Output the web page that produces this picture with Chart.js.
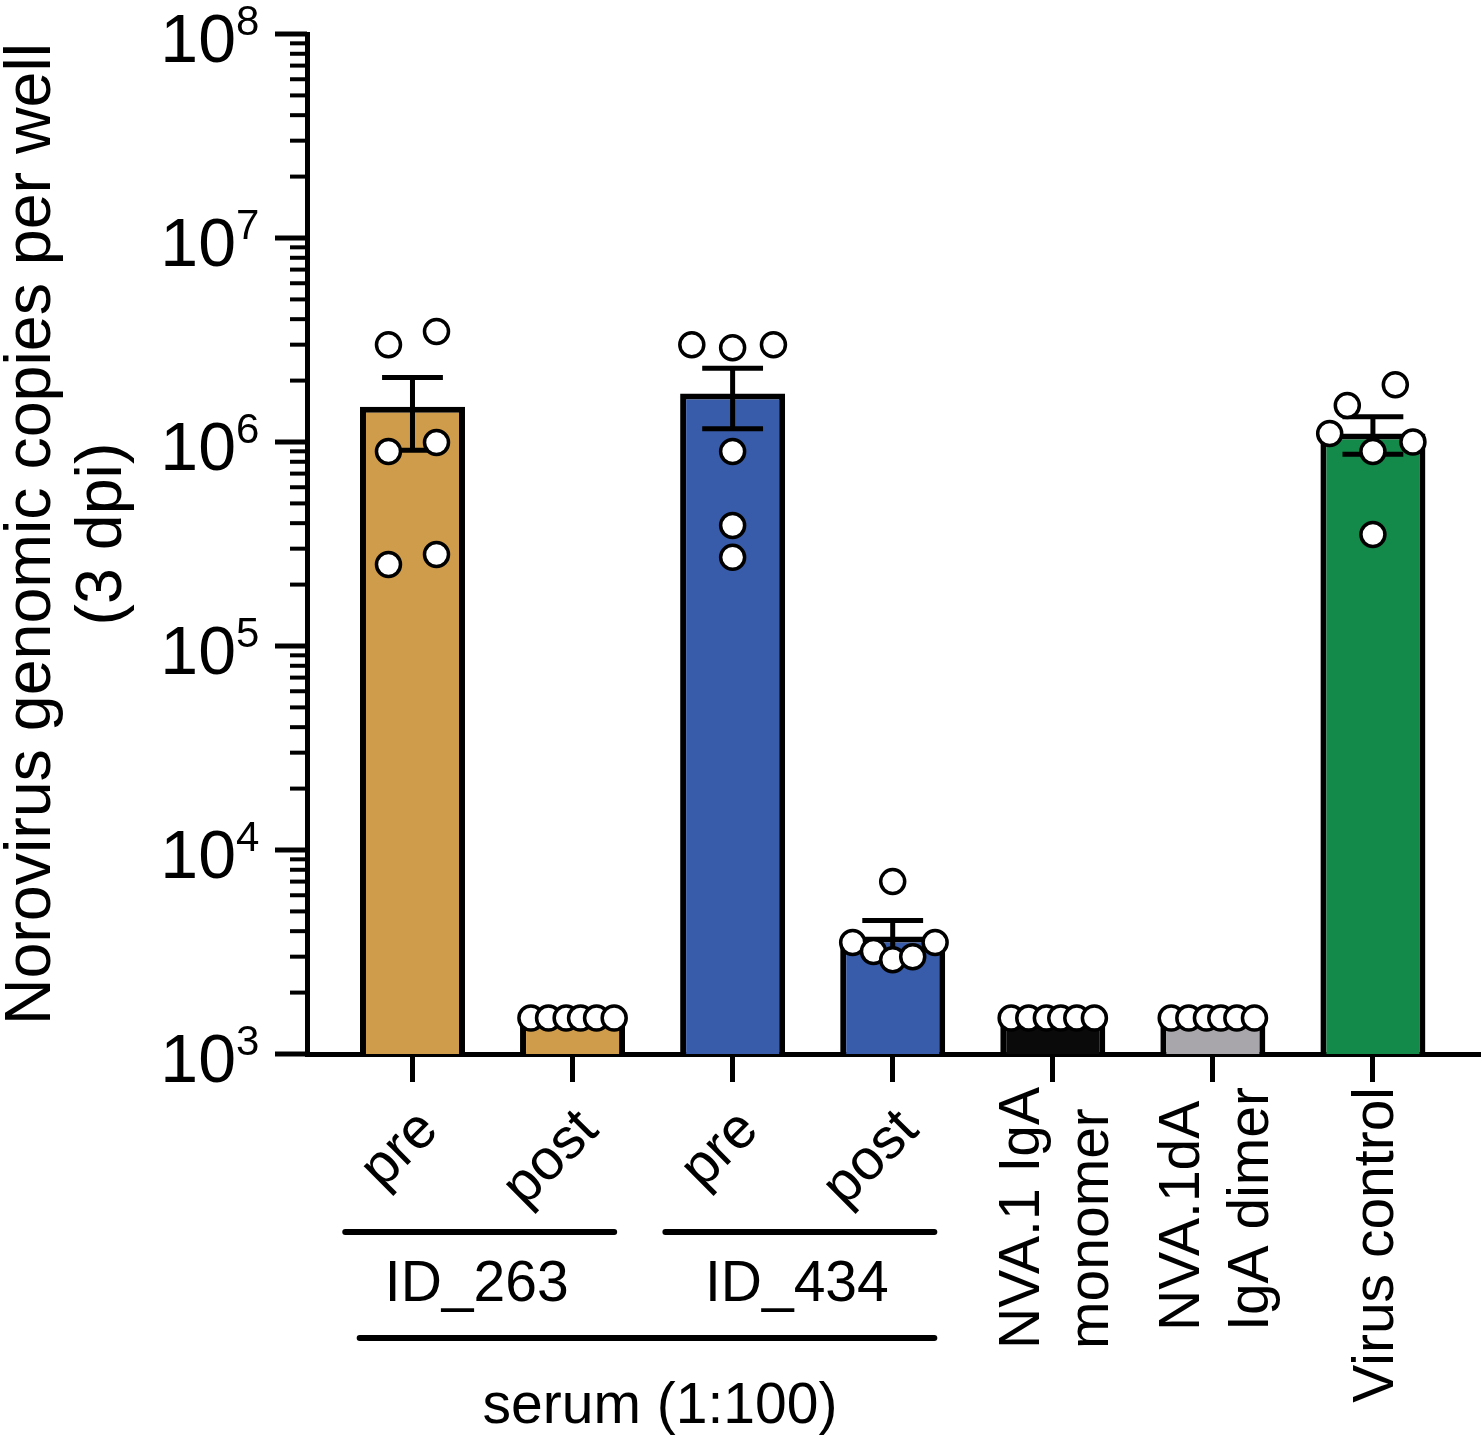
<!DOCTYPE html>
<html>
<head>
<meta charset="utf-8">
<script src="https://cdn.jsdelivr.net/npm/chart.js@4.4.1/dist/chart.umd.min.js"></script>
<style>
  html, body { margin: 0; padding: 0; background: #fff; overflow: hidden; }
  #chart { display: block; }
</style>
</head>
<body>
<canvas id="chart" width="1483" height="1438"></canvas>
<script>
// categories on the x axis (arrays = two-line labels)
const categories = ['pre', 'post', 'pre', 'post', ['NVA.1 IgA', 'monomer'], ['NVA.1dA', 'IgA dimer'], 'Virus control'];
const labelAngles = [-45, -45, -45, -45, -90, -90, -90];
const groups = [
    { label: 'ID_263', from: 0, to: 1 },
    { label: 'ID_434', from: 2, to: 3 }
];
const outerGroup = { label: 'serum (1:100)', from: 0, to: 3 };
const yTitle = ['Norovirus genomic copies per well', '(3 dpi)'];

// bar = mean, error bar = SEM
const means = [1.49e6, 1.5e3, 1.73e6, 3.77e3, 1.5e3, 1.5e3, 1.1e6];
const sems = [0.58e6, 0, 0.57e6, 0.74e3, 0, 0, 0.23e6];

// single wells per condition
const wells = [
    [3.0e6, 3.48e6, 8.98e5, 9.95e5, 2.51e5, 2.81e5],
    [1.5e3, 1.5e3, 1.5e3, 1.5e3, 1.5e3, 1.5e3],
    [3.0e6, 2.9e6, 3.0e6, 8.98e5, 3.9e5, 2.72e5],
    [7.0e3, 3.52e3, 3.18e3, 2.9e3, 3.0e3, 3.52e3],
    [1.5e3, 1.5e3, 1.5e3, 1.5e3, 1.5e3, 1.5e3],
    [1.5e3, 1.5e3, 1.5e3, 1.5e3, 1.5e3, 1.5e3],
    [1.1e6, 1.51e6, 1.91e6, 8.98e5, 1.0e6, 3.52e5]
];
// horizontal spread of the dots inside a bar (category units)
const spread = [
    [-0.15, 0.15, -0.15, 0.15, -0.15, 0.15],
    [-0.26, -0.15, -0.04, 0.05, 0.15, 0.26],
    [-0.255, 0, 0.255, 0, 0, 0],
    [0, -0.25, -0.12, 0, 0.125, 0.265],
    [-0.26, -0.15, -0.04, 0.05, 0.15, 0.26],
    [-0.26, -0.15, -0.04, 0.05, 0.15, 0.26],
    [-0.27, -0.16, 0.14, 0, 0.25, 0]
];

// log axis ticks
const yExponents = [3, 4, 5, 6, 7, 8];
const minorSteps = [2, 3, 4, 5, 6, 7, 8, 9];

const barColors = ['#CF9C4B', '#CF9C4B', '#385CA9', '#385CA9', '#0A0A0A', '#A8A6AA', '#13894A'];
const family = '"Liberation Sans", Arial, Helvetica, sans-serif';

const points = [];
wells.forEach((list, i) => {
    list.forEach((v, j) => points.push({ x: i + spread[i][j], y: v }));
});

const yTickValues = [];
yExponents.forEach(e => {
    yTickValues.push({ value: Math.pow(10, e), major: true });
    if (e < yExponents[yExponents.length - 1]) {
        minorSteps.forEach(s => yTickValues.push({ value: s * Math.pow(10, e), major: false }));
    }
});

const decorations = {
    id: 'decorations',
    // error bars, drawn between the bars and the dots
    afterDatasetDraw(chart, args) {
        if (args.index !== 0) return;
        const { ctx, scales: { x, y } } = chart;
        ctx.save();
        ctx.strokeStyle = '#000';
        ctx.lineWidth = 5;
        means.forEach((m, i) => {
            const top = y.getPixelForValue(m + sems[i]);
            const bot = y.getPixelForValue(m - sems[i]);
            const xc = x.getPixelForValue(i);
            const l = x.getPixelForValue(i - 0.19);
            const r = x.getPixelForValue(i + 0.19);
            ctx.beginPath();
            ctx.moveTo(xc, top); ctx.lineTo(xc, bot);
            ctx.moveTo(l, top); ctx.lineTo(r, top);
            ctx.moveTo(l, bot); ctx.lineTo(r, bot);
            ctx.stroke();
        });
        ctx.restore();
    },
    afterDraw(chart) {
        const { ctx, scales: { x, y } } = chart;
        const axisX = chart.chartArea.left;
        ctx.save();
        ctx.fillStyle = '#000';
        ctx.strokeStyle = '#000';

        // y ticks + 10^n labels
        y.ticks.forEach(t => {
            const py = y.getPixelForValue(t.value);
            ctx.lineWidth = t.major ? 5 : 4;
            ctx.beginPath();
            ctx.moveTo(axisX, py);
            ctx.lineTo(axisX - (t.major ? 32 : 17), py);
            ctx.stroke();
            if (t.major) {
                const exp = Math.round(Math.log10(t.value));
                ctx.textBaseline = 'alphabetic';
                ctx.font = '68px ' + family;
                ctx.textAlign = 'right';
                ctx.fillText('10', 236, py + 28);
                ctx.font = '42px ' + family;
                ctx.textAlign = 'left';
                ctx.fillText(String(exp), 236, py + 1);
            }
        });

        // y title
        ctx.font = '64.5px ' + family;
        ctx.textAlign = 'center';
        ctx.textBaseline = 'alphabetic';
        yTitle.forEach((line, i) => {
            ctx.save();
            ctx.translate(50 + i * 71, 534);
            ctx.rotate(-Math.PI / 2);
            ctx.fillText(line, 0, 0);
            ctx.restore();
        });

        // category labels
        ctx.font = '57px ' + family;
        categories.forEach((c, i) => {
            const tx = x.getPixelForValue(i);
            const lines = Array.isArray(c) ? c : [c];
            if (labelAngles[i] === -45) {
                ctx.save();
                ctx.translate(tx + 28, 1132);
                ctx.rotate(-Math.PI / 4);
                ctx.textAlign = 'right';
                ctx.fillText(lines[0], 0, 0);
                ctx.restore();
            } else {
                const maxW = Math.max(...lines.map(l => ctx.measureText(l).width));
                lines.forEach((l, k) => {
                    const mid = tx + (k - (lines.length - 1) / 2) * 69;
                    ctx.save();
                    ctx.translate(mid + 0.358 * 57, 1087 + maxW);
                    ctx.rotate(-Math.PI / 2);
                    ctx.textAlign = 'left';
                    ctx.fillText(l, 0, 0);
                    ctx.restore();
                });
            }
        });

        // group brackets
        ctx.lineWidth = 6;
        ctx.lineCap = 'round';
        ctx.textAlign = 'center';
        groups.forEach(g => {
            const x1 = x.getPixelForValue(g.from - 0.42);
            const x2 = x.getPixelForValue(g.to + 0.26);
            ctx.beginPath();
            ctx.moveTo(x1, 1232); ctx.lineTo(x2, 1232);
            ctx.stroke();
            ctx.fillText(g.label, (x1 + x2) / 2 - 3, 1301);
        });
        const o1 = x.getPixelForValue(outerGroup.from - 0.33);
        const o2 = x.getPixelForValue(outerGroup.to + 0.26);
        ctx.beginPath();
        ctx.moveTo(o1, 1338); ctx.lineTo(o2, 1338);
        ctx.stroke();
        ctx.fillText(outerGroup.label, (o1 + o2) / 2 + 13, 1423);

        ctx.restore();
    }
};

const ctx = document.getElementById('chart').getContext('2d');
new Chart(ctx, {
    type: 'bar',
    data: {
        datasets: [{
            type: 'bar',
            data: means.map((m, i) => ({ x: i, y: m })),
            backgroundColor: barColors,
            borderColor: '#000',
            borderWidth: 6,
            borderSkipped: 'bottom',
            barPercentage: 0.656,
            categoryPercentage: 1,
            order: 2
        }, {
            type: 'scatter',
            data: points,
            showLine: false,
            pointRadius: 12,
            pointHoverRadius: 12,
            pointBackgroundColor: '#fff',
            pointBorderColor: '#000',
            pointBorderWidth: 3.5,
            backgroundColor: '#fff',
            borderColor: '#000',
            borderWidth: 3.5,
            order: 1
        }]
    },
    options: {
        responsive: false,
        animation: false,
        events: [],
        layout: { autoPadding: false, padding: { top: 34, right: 3, left: 0, bottom: 0 } },
        plugins: {
            legend: { display: false },
            tooltip: { enabled: false }
        },
        scales: {
            x: {
                type: 'linear',
                min: -0.659,
                max: 6.669,
                offset: false,
                bounds: 'data',
                afterBuildTicks: s => { s.ticks = categories.map((c, i) => ({ value: i })); },
                afterFit: s => { s.height = 384; },
                ticks: { display: false },
                grid: {
                    display: true,
                    offset: false,
                    drawOnChartArea: false,
                    drawTicks: true,
                    tickLength: 28,
                    tickWidth: 5,
                    tickColor: '#000'
                },
                border: { display: true, color: '#000', width: 5 }
            },
            y: {
                type: 'logarithmic',
                min: 1e3,
                max: 1e8,
                bounds: 'data',
                afterBuildTicks: s => { s.ticks = yTickValues.map(t => ({ ...t })); },
                afterFit: s => { s.width = 307; },
                ticks: { display: false },
                grid: { display: false, drawTicks: false },
                border: { display: true, color: '#000', width: 5 }
            }
        }
    },
    plugins: [decorations]
});
</script>
</body>
</html>
